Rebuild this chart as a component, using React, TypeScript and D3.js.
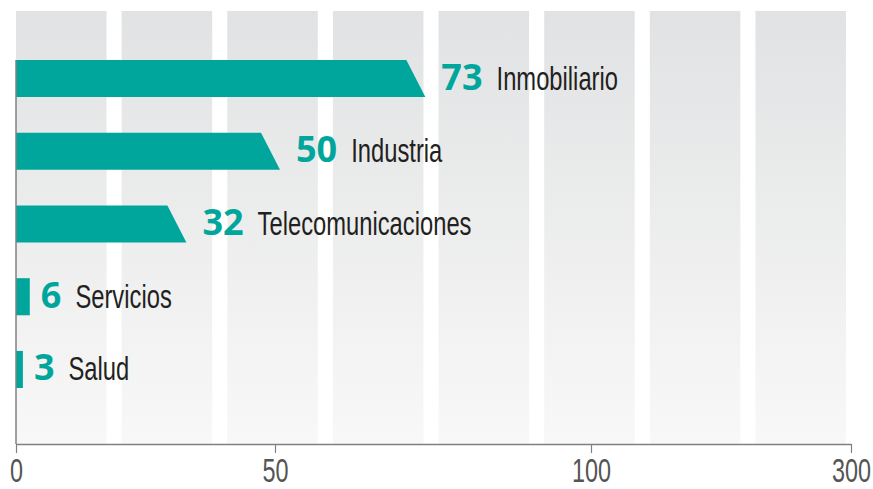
import React, { useEffect, useRef } from 'react';
import * as d3 from 'd3';

// sector counts
const categories = ['Inmobiliario', 'Industria', 'Telecomunicaciones', 'Servicios', 'Salud'];
const values = [73, 50, 32, 6, 3];
const tickValues = [0, 50, 100, 300];

const W = 873;
const H = 489;
const TEAL = '#00a69c';

const App = () => {
    const svgRef = useRef<SVGSVGElement>(null);

    useEffect(() => {
        const svg = d3.select(svgRef.current);
        svg.selectAll('*').remove();

        const left = 16;
        const right = 851;
        const top = 11;
        const axisY = 444;

        // hand-drawn style scale: stretched at the low end, jumps 100 -> 300
        const x = d3.scaleLinear()
            .domain([0, 10, 30, 50, 100, 300])
            .range([left, 39, 171, 275, 591, right]);

        const y = d3.scaleBand()
            .domain(categories)
            .range([60, 388])
            .paddingInner(0.49)
            .paddingOuter(0);

        // background columns
        const defs = svg.append('defs');
        const grad = defs.append('linearGradient')
            .attr('id', 'colGrad')
            .attr('x1', 0).attr('y1', 0).attr('x2', 0).attr('y2', 1);
        grad.append('stop').attr('offset', '0%').attr('stop-color', '#e1e2e3');
        grad.append('stop').attr('offset', '100%').attr('stop-color', '#f8f8f8');

        const cols = d3.scaleBand<number>()
            .domain(d3.range(8))
            .range([left, 846])
            .paddingInner(0.143)
            .paddingOuter(0);

        svg.append('g')
            .selectAll('rect')
            .data(cols.domain())
            .join('rect')
            .attr('x', d => cols(d)!)
            .attr('y', top)
            .attr('width', cols.bandwidth())
            .attr('height', axisY - top)
            .attr('fill', 'url(#colGrad)');

        // bars, long ones get a slanted end
        const slantTop = 14;
        const slantBot = 5;
        const bh = y.bandwidth();
        svg.append('g')
            .selectAll('path')
            .data(values)
            .join('path')
            .attr('d', (v, i) => {
                const y0 = y(categories[i])!;
                const xe = x(v);
                if (v < 10) return `M${left},${y0}H${xe}V${y0 + bh}H${left}Z`;
                return `M${left},${y0}H${xe - slantTop}L${xe + slantBot},${y0 + bh}H${left}Z`;
            })
            .attr('fill', TEAL);

        // labels
        const nameScale = 0.72;
        values.forEach((v, i) => {
            const yc = y(categories[i])! + bh / 2;
            const tip = v < 10 ? x(v) : x(v) + slantBot;
            const nx = tip + (v < 10 ? 11 : 16);
            const num = svg.append('text')
                .attr('x', nx)
                .attr('y', yc + 11)
                .attr('font-family', '"Open Sans", sans-serif')
                .attr('font-weight', 700)
                .attr('font-size', 36)
                .attr('fill', TEAL)
                .text(v);
            const nw = (num.node() as SVGTextElement).getComputedTextLength();
            svg.append('g')
                .attr('transform', `translate(${nx + nw + 14},${yc + 11}) scale(${nameScale},1)`)
                .append('text')
                .attr('font-family', '"Liberation Sans", Arial, sans-serif')
                .attr('font-size', 33)
                .attr('fill', '#231f20')
                .text(categories[i]);
        });

        // left line
        svg.append('line')
            .attr('x1', left).attr('x2', left)
            .attr('y1', 60).attr('y2', axisY)
            .attr('stroke', '#808080')
            .attr('stroke-width', 1.5);

        // bottom axis
        const axis = svg.append('g')
            .attr('transform', `translate(0,${axisY})`)
            .call(d3.axisBottom(x).tickValues(tickValues).tickSize(9).tickSizeOuter(0).tickFormat(d3.format('d')));
        axis.select('.domain').attr('stroke', '#808080').attr('stroke-width', 1.5);
        axis.selectAll('.tick line').attr('stroke', '#808080').attr('stroke-width', 1.2);
        axis.selectAll('.tick text')
            .attr('y', 0)
            .attr('dy', 0)
            .attr('font-family', '"Liberation Sans", Arial, sans-serif')
            .attr('font-size', 33)
            .attr('fill', '#555555')
            .attr('transform', 'translate(0,38) scale(0.71,1)');
    }, []);

    return (
        <div style={{ position: 'fixed', left: 0, top: 0, width: W, height: H, background: '#fff' }}>
            <svg ref={svgRef} width={W} height={H}></svg>
        </div>
    );
};

export default App;
